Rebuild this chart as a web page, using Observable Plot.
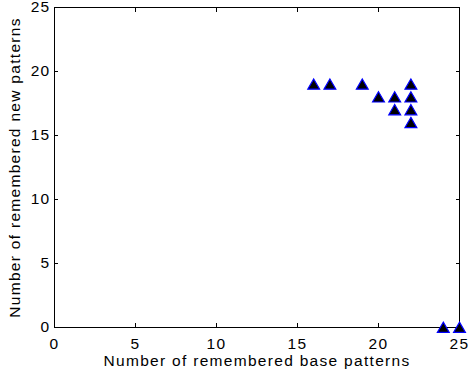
<!DOCTYPE html>
<html>
<head>
<meta charset="utf-8">
<script src="https://cdn.jsdelivr.net/npm/d3@7"></script>
<script src="https://cdn.jsdelivr.net/npm/@observablehq/plot@0.6"></script>
<style>
  html, body { margin: 0; padding: 0; background: #fff; }
</style>
</head>
<body>
<div id="chart"></div>
<script>
const basePatterns = [16, 17, 19, 22, 20, 21, 22, 21, 22, 22, 24, 25];
const newPatterns  = [19, 19, 19, 19, 18, 18, 18, 17, 17, 16, 0, 0];
const xTicks = [0, 5, 10, 15, 20, 25];
const yTicks = [0, 5, 10, 15, 20, 25];
const xLabel = "Number of remembered base patterns";
const yLabel = "Number of remembered new patterns";

const points = basePatterns.map((b, i) => ({base: b, added: newPatterns[i]}));

const chart = Plot.plot({
  width: 471,
  height: 378,
  marginLeft: 54,
  marginRight: 12,
  marginTop: 7,
  marginBottom: 51,
  style: {
    fontFamily: "'Liberation Sans', Arial, sans-serif",
    fontSize: "15.5px",
    letterSpacing: "1.3px",
    color: "#000",
    background: "#fff",
    overflow: "visible"
  },
  x: {domain: [0, 25]},
  y: {domain: [0, 25]},
  marks: [
    Plot.frame({stroke: "#000", strokeWidth: 1}),
    Plot.axisX(xTicks, {anchor: "bottom", tickSize: -4, tickPadding: 14.5, label: xLabel, labelArrow: "none", labelAnchor: "center", labelOffset: 38, stroke: "#000"}),
    Plot.axisX(xTicks, {anchor: "top", tickSize: -4, tickFormat: () => "", label: null, stroke: "#000"}),
    Plot.axisY(yTicks, {anchor: "left", tickSize: -4, tickPadding: 8, label: yLabel, labelArrow: "none", labelAnchor: "center", labelOffset: 46, stroke: "#000"}),
    Plot.axisY(yTicks, {anchor: "right", tickSize: -4, tickFormat: () => "", label: null, stroke: "#000"}),
    Plot.dot(points, {x: "base", y: "added", symbol: "triangle", r: 4.4, fill: "#000", stroke: "#0000ff", strokeWidth: 1.2, dy: 1.5})
  ]
});
document.getElementById("chart").appendChild(chart);
</script>
</body>
</html>
